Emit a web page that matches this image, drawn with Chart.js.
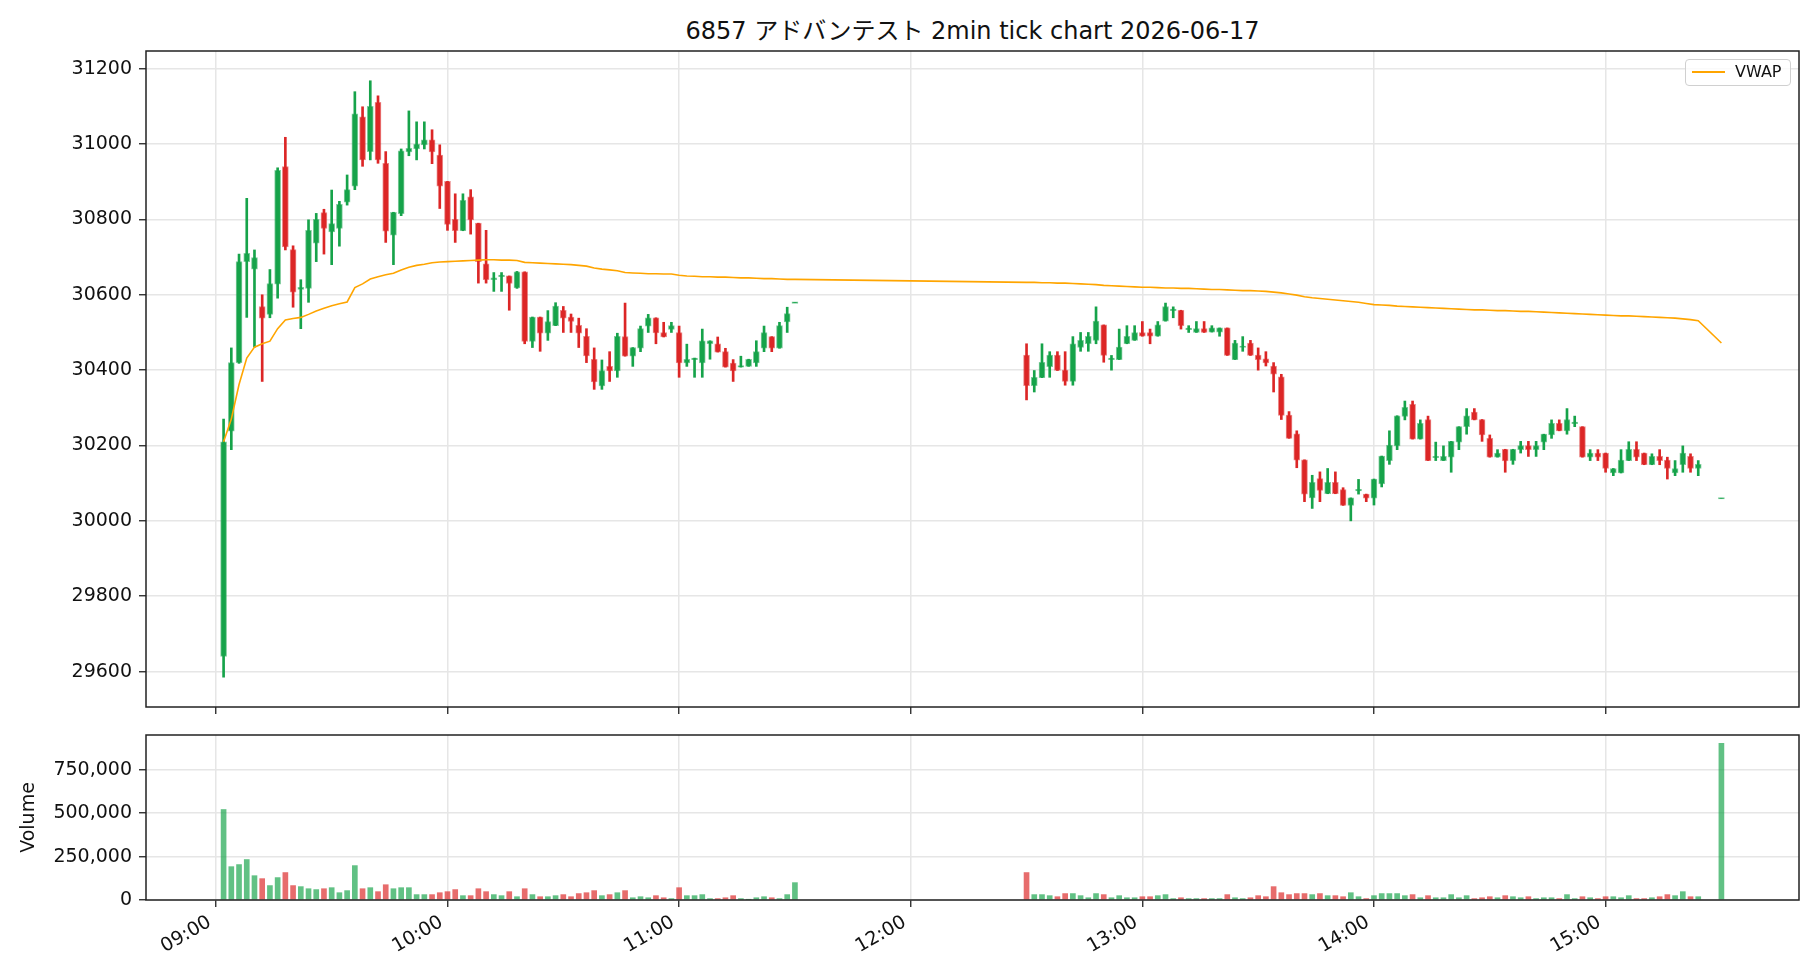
<!DOCTYPE html>
<html>
<head>
<meta charset="utf-8">
<script src="https://cdn.jsdelivr.net/npm/chart.js@4.4.1/dist/chart.umd.min.js"></script>
<style>
  body { margin: 0; background: #fff; width: 1820px; height: 980px; overflow: hidden; position: relative;
         font-family: "DejaVu Sans", "Noto Sans CJK JP", sans-serif; color: #111; }
  #title { position: absolute; left: 146px; width: 1653px; top: 11px; text-align: center; font-size: 24px; }
  #priceChart { position: absolute; left: 0; top: 0; }
  #volChart { position: absolute; left: 0; top: 720px; }
  #legend { position: absolute; left: 1685px; top: 59px; width: 104px; height: 25px; border: 1px solid #d0d0d0;
            border-radius: 4px; background: rgba(255,255,255,0.8); font-size: 16px; }
  #legend .ln { position: absolute; left: 6px; top: 11px; width: 33px; height: 2px; background: rgb(255,165,0); }
  #legend .tx { position: absolute; left: 49px; top: 2px; }
</style>
</head>
<body>
<div id="title">6857 アドバンテスト 2min tick chart 2026-06-17</div>
<canvas id="priceChart" width="1820" height="720"></canvas>
<canvas id="volChart" width="1820" height="260"></canvas>
<div id="legend"><span class="ln"></span><span class="tx">VWAP</span></div>
<script>
// 2-minute bars, morning session then afternoon session
const times = [
  "09:02","09:04","09:06","09:08","09:10","09:12","09:14","09:16","09:18","09:20",
  "09:22","09:24","09:26","09:28","09:30","09:32","09:34","09:36","09:38","09:40",
  "09:42","09:44","09:46","09:48","09:50","09:52","09:54","09:56","09:58","10:00",
  "10:02","10:04","10:06","10:08","10:10","10:12","10:14","10:16","10:18","10:20",
  "10:22","10:24","10:26","10:28","10:30","10:32","10:34","10:36","10:38","10:40",
  "10:42","10:44","10:46","10:48","10:50","10:52","10:54","10:56","10:58","11:00",
  "11:02","11:04","11:06","11:08","11:10","11:12","11:14","11:16","11:18","11:20",
  "11:22","11:24","11:26","11:28","11:30",
  "12:30","12:32","12:34","12:36","12:38","12:40","12:42","12:44","12:46","12:48",
  "12:50","12:52","12:54","12:56","12:58","13:00","13:02","13:04","13:06","13:08",
  "13:10","13:12","13:14","13:16","13:18","13:20","13:22","13:24","13:26","13:28",
  "13:30","13:32","13:34","13:36","13:38","13:40","13:42","13:44","13:46","13:48",
  "13:50","13:52","13:54","13:56","13:58","14:00","14:02","14:04","14:06","14:08",
  "14:10","14:12","14:14","14:16","14:18","14:20","14:22","14:24","14:26","14:28",
  "14:30","14:32","14:34","14:36","14:38","14:40","14:42","14:44","14:46","14:48",
  "14:50","14:52","14:54","14:56","14:58","15:00","15:02","15:04","15:06","15:08",
  "15:10","15:12","15:14","15:16","15:18","15:20","15:22","15:24","15:30"
];
const opens = [
  29640,30238,30420,30688,30668,30569,30548,30628,30940,30720,
  30614,30617,30737,30818,30767,30776,30846,30888,31072,30980,
  31111,30949,30758,30815,30979,30987,30998,31011,30971,30901,
  30800,30770,30860,30790,30682,30640,30648,30650,30618,30661,
  30476,30541,30498,30518,30559,30541,30519,30490,30429,30358,
  30410,30398,30489,30437,30458,30517,30539,30500,30508,30500,
  30419,30428,30419,30470,30470,30449,30419,30408,30410,30419,
  30458,30489,30458,30528,30579,
  30440,30359,30380,30409,30440,30400,30370,30460,30470,30479,
  30520,30428,30428,30470,30479,30500,30500,30490,30530,30558,
  30559,30508,30500,30510,30501,30501,30512,30428,30460,30472,
  30440,30430,30411,30382,30281,30231,30162,30061,30112,30072,
  30102,30083,30041,30080,30071,30060,30098,30160,30199,30277,
  30309,30217,30269,30168,30160,30169,30209,30250,30289,30269,
  30219,30169,30190,30160,30189,30200,30189,30209,30228,30259,
  30239,30258,30250,30169,30180,30180,30127,30127,30160,30190,
  30180,30149,30171,30161,30127,30149,30171,30139,30060
];
const highs = [
  30270,30459,30708,30856,30719,30600,30667,30937,31018,30730,
  30640,30799,30816,30827,30878,30848,30918,31139,31099,31168,
  31128,30980,30819,30987,31088,31059,31059,31038,30998,30901,
  30868,30868,30879,30790,30771,30659,30659,30650,30662,30661,
  30541,30541,30558,30579,30569,30549,30538,30510,30459,30427,
  30449,30498,30578,30460,30517,30548,30539,30527,30527,30517,
  30469,30432,30509,30478,30488,30458,30428,30437,30429,30478,
  30517,30489,30527,30567,30579,
  30470,30399,30470,30449,30449,30449,30489,30500,30500,30568,
  30520,30439,30509,30518,30518,30529,30509,30529,30578,30568,
  30559,30518,30529,30529,30518,30512,30512,30479,30489,30479,
  30459,30449,30420,30389,30290,30239,30162,30121,30130,30139,
  30130,30088,30061,30110,30071,30111,30172,30239,30279,30318,
  30318,30268,30278,30209,30199,30211,30250,30298,30298,30269,
  30228,30189,30190,30190,30211,30211,30211,30230,30268,30268,
  30298,30278,30250,30189,30189,30180,30139,30189,30210,30210,
  30180,30178,30189,30169,30160,30199,30178,30160,30060
];
const lows = [
  29585,30189,30418,30540,30461,30370,30539,30591,30719,30567,
  30510,30580,30688,30708,30680,30729,30838,30879,30941,30958,
  30949,30739,30680,30810,30969,30958,30987,30948,30829,30771,
  30739,30770,30761,30631,30631,30609,30609,30559,30617,30470,
  30460,30450,30479,30518,30500,30500,30460,30420,30349,30349,
  30370,30381,30437,30410,30449,30500,30470,30488,30500,30381,
  30410,30381,30381,30429,30448,30408,30370,30408,30410,30410,
  30449,30449,30458,30500,30579,
  30321,30342,30380,30381,30399,30360,30360,30450,30450,30470,
  30421,30400,30428,30470,30479,30490,30470,30490,30530,30539,
  30509,30500,30500,30500,30501,30490,30439,30428,30450,30439,
  30400,30411,30342,30269,30219,30141,30051,30033,30051,30072,
  30072,30041,30000,30071,30051,30042,30090,30150,30189,30268,
  30217,30217,30160,30160,30160,30129,30189,30230,30268,30211,
  30169,30169,30129,30150,30180,30171,30171,30189,30219,30239,
  30230,30250,30169,30160,30160,30129,30120,30127,30160,30160,
  30149,30149,30149,30111,30120,30129,30129,30120,30060
];
const closes = [
  30210,30420,30688,30710,30699,30538,30630,30930,30727,30607,
  30620,30771,30800,30776,30789,30840,30879,31080,30958,31100,
  30958,30769,30819,30982,30989,31000,31011,30979,30888,30787,
  30770,30851,30799,30688,30640,30645,30652,30630,30661,30476,
  30541,30498,30529,30570,30538,30529,30498,30438,30369,30399,
  30398,30490,30437,30460,30510,30539,30499,30488,30518,30419,
  30429,30432,30478,30478,30448,30408,30398,30412,30429,30449,
  30500,30458,30518,30550,30579,
  30359,30381,30421,30440,30399,30370,30470,30479,30490,30530,
  30439,30432,30461,30490,30500,30490,30490,30520,30569,30562,
  30518,30511,30510,30500,30512,30512,30439,30472,30464,30439,
  30428,30419,30389,30280,30219,30161,30071,30102,30081,30102,
  30072,30041,30061,30083,30060,30111,30172,30201,30279,30301,
  30217,30259,30160,30171,30171,30211,30250,30279,30268,30228,
  30169,30180,30159,30190,30200,30189,30200,30230,30259,30239,
  30269,30262,30169,30180,30169,30139,30139,30161,30190,30169,
  30149,30171,30160,30139,30139,30180,30139,30150,30060
];
const volumes = [
  521000,192000,204000,233000,140000,123000,83000,129000,158000,83000,
  77000,65000,60000,65000,71000,42000,54000,198000,65000,71000,
  48000,88000,65000,71000,71000,31000,31000,31000,42000,48000,
  60000,25000,25000,65000,48000,31000,25000,48000,19000,65000,
  31000,19000,19000,25000,31000,19000,37000,42000,54000,25000,
  31000,42000,54000,13000,19000,13000,25000,13000,8000,71000,
  25000,25000,31000,8000,8000,13000,25000,8000,3000,13000,
  19000,13000,8000,31000,100000,
  158000,31000,31000,25000,19000,37000,37000,25000,13000,37000,
  31000,13000,25000,13000,13000,19000,19000,25000,31000,8000,
  13000,8000,8000,8000,8000,8000,31000,13000,8000,13000,
  25000,19000,77000,42000,31000,37000,37000,31000,37000,25000,
  25000,19000,42000,19000,8000,25000,37000,37000,37000,25000,
  31000,13000,25000,13000,13000,31000,13000,25000,8000,13000,
  19000,13000,25000,19000,13000,19000,8000,13000,13000,8000,
  31000,8000,19000,13000,8000,19000,19000,13000,25000,8000,
  8000,13000,19000,31000,25000,48000,19000,19000,902000
];
const vwap = [
  30210,30270,30362,30432,30461,30470,30477,30510,30533,30537,
  30540,30548,30557,30564,30571,30576,30581,30619,30629,30642,
  30648,30653,30657,30666,30673,30678,30681,30685,30687,30688,
  30689,30690,30691,30692,30693,30693,30692,30692,30691,30686,
  30685,30684,30683,30682,30681,30680,30678,30676,30671,30668,
  30666,30664,30659,30658,30657,30656,30656,30655,30655,30652,
  30650,30649,30648,30648,30647,30647,30646,30645,30645,30644,
  30643,30643,30642,30641,30641,
  30633,30633,30632,30632,30631,30631,30630,30629,30628,30627,
  30625,30624,30623,30622,30621,30620,30620,30619,30618,30618,
  30617,30617,30616,30615,30614,30614,30613,30612,30611,30611,
  30610,30609,30607,30605,30602,30599,30595,30592,30590,30588,
  30586,30584,30582,30580,30577,30574,30573,30572,30570,30569,
  30568,30567,30566,30565,30564,30563,30562,30561,30560,30560,
  30559,30558,30558,30557,30556,30556,30555,30554,30553,30552,
  30551,30550,30549,30548,30547,30546,30545,30544,30544,30543,
  30542,30541,30540,30539,30538,30536,30534,30531,30472
];
const priceTicks = [29600, 29800, 30000, 30200, 30400, 30600, 30800, 31000, 31200];
const volTicks = [0, 250000, 500000, 750000];
const hourTicks = ["09:00", "10:00", "11:00", "12:00", "13:00", "14:00", "15:00"];

const toMin = t => { const [h, m] = t.split(':').map(Number); return (h - 9) * 60 + m; };
const xs = times.map(toMin);
const isUp = closes.map((c, i) => c >= opens[i]);

const GREEN = 'rgb(22,163,74)', RED = 'rgb(220,38,38)';
const GREEN_E = 'rgba(22,163,74,0.55)', RED_E = 'rgba(220,38,38,0.55)';
const GREEN_V = 'rgba(22,163,74,0.68)', RED_V = 'rgba(220,38,38,0.68)';
const GRID = '#e6e6e6';
const X_MIN = -18.1, X_MAX = 410.1;

Chart.defaults.font.family = '"DejaVu Sans", "Noto Sans CJK JP", sans-serif';
Chart.defaults.font.size = 19;
Chart.defaults.color = '#111';

const boxPlugin = {
  id: 'box',
  afterDraw(chart) {
    const { ctx, chartArea: a } = chart;
    ctx.save();
    ctx.strokeStyle = '#222';
    ctx.lineWidth = 1.5;
    ctx.strokeRect(a.left, a.top, a.right - a.left, a.bottom - a.top);
    ctx.restore();
  }
};

const gridOpts = { color: GRID, lineWidth: 1.5, offset: false, drawTicks: true, tickLength: 7, tickColor: '#222', tickWidth: 1.3 };
const hourValues = hourTicks.map(toMin);

// fixed axis sizes so both panels line up with the reference
const fixY = s => { s.width = 146; s.paddingTop = 0; s.paddingBottom = 0; };

function bodyRange(i) {
  let a = opens[i], b = closes[i];
  if (Math.abs(b - a) < 4) { const m = (a + b) / 2; a = m - 2; b = m + 2; }
  return [a, b];
}

new Chart(document.getElementById('priceChart'), {
  type: 'bar',
  data: {
    datasets: [
      {
        type: 'line',
        label: 'VWAP',
        data: xs.map((x, i) => ({ x: x, y: vwap[i] })),
        borderColor: 'rgb(255,165,0)',
        borderWidth: 1.6,
        pointRadius: 0,
        tension: 0,
        order: 0
      },
      {
        label: 'body',
        data: xs.map((x, i) => ({ x: x, y: bodyRange(i) })),
        backgroundColor: isUp.map(u => u ? GREEN : RED),
        borderColor: isUp.map(u => u ? GREEN_E : RED_E),
        borderWidth: 1,
        borderSkipped: false,
        barThickness: 6,
        grouped: false,
        order: 1
      },
      {
        label: 'wick',
        data: xs.map((x, i) => ({ x: x, y: [lows[i], highs[i]] })),
        backgroundColor: isUp.map(u => u ? GREEN : RED),
        borderWidth: 0,
        barThickness: 2,
        grouped: false,
        order: 2
      }
    ]
  },
  options: {
    responsive: false,
    animation: false,
    layout: { padding: { top: 51, right: 21, left: 0, bottom: 0 } },
    plugins: { legend: { display: false }, tooltip: { enabled: false } },
    scales: {
      x: {
        type: 'linear', min: X_MIN, max: X_MAX, offset: false,
        afterBuildTicks: s => { s.ticks = hourValues.map(v => ({ value: v })); },
        ticks: { display: false },
        grid: gridOpts,
        border: { display: false },
        afterFit: s => { s.height = 13; s.paddingLeft = 0; s.paddingRight = 0; }
      },
      y: {
        min: 29506, max: 31247,
        afterBuildTicks: s => { s.ticks = priceTicks.map(v => ({ value: v })); },
        ticks: { padding: 7, callback: v => String(v) },
        grid: gridOpts,
        border: { display: false },
        afterFit: fixY
      }
    }
  },
  plugins: [boxPlugin]
});

new Chart(document.getElementById('volChart'), {
  type: 'bar',
  data: {
    datasets: [{
      label: 'Volume',
      data: xs.map((x, i) => ({ x: x, y: volumes[i] })),
      backgroundColor: isUp.map(u => u ? GREEN_V : RED_V),
      borderWidth: 0,
      barThickness: 5,
      grouped: false
    }]
  },
  options: {
    responsive: false,
    animation: false,
    layout: { padding: { top: 15, right: 21, left: 0, bottom: 0 } },
    plugins: { legend: { display: false }, tooltip: { enabled: false } },
    scales: {
      x: {
        type: 'linear', min: X_MIN, max: X_MAX, offset: false,
        afterBuildTicks: s => { s.ticks = hourValues.map(v => ({ value: v })); },
        ticks: {
          autoSkip: false, minRotation: 30, maxRotation: 30, padding: 4, labelOffset: -6,
          callback: v => hourTicks[hourValues.indexOf(v)]
        },
        grid: gridOpts,
        border: { display: false },
        afterFit: s => { s.height = 80; s.paddingLeft = 0; s.paddingRight = 0; }
      },
      y: {
        min: 0, max: 950000,
        afterBuildTicks: s => { s.ticks = volTicks.map(v => ({ value: v })); },
        ticks: { padding: 7, callback: v => v.toLocaleString('en-US') },
        title: { display: true, text: 'Volume', padding: { top: 18, bottom: 0 } },
        grid: gridOpts,
        border: { display: false },
        afterFit: fixY
      }
    }
  },
  plugins: [boxPlugin]
});
</script>
</body>
</html>
